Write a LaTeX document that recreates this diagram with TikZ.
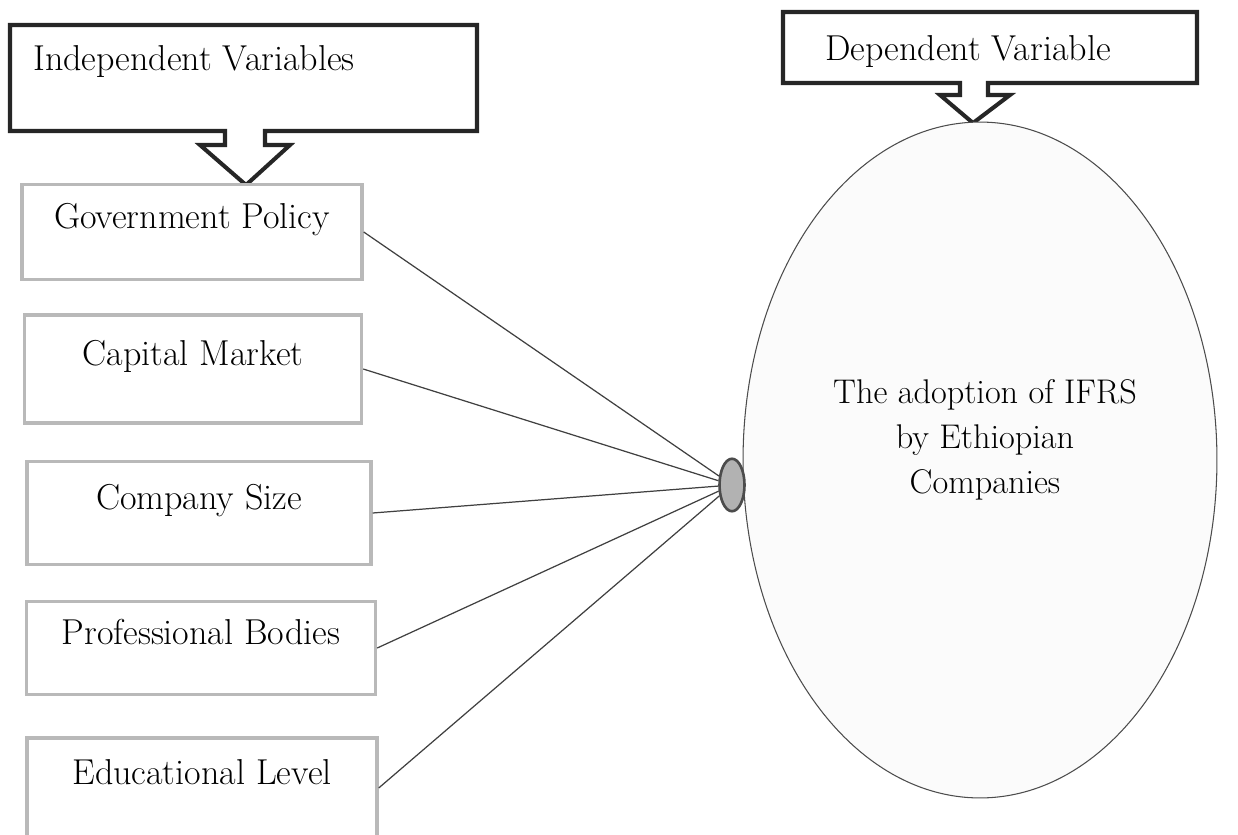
\documentclass[tikz,border=0pt]{standalone}
\usetikzlibrary{shapes.geometric}
\begin{document}
\begin{tikzpicture}[x=0.02cm, y=-0.02cm, every node/.style={font=\fontsize{20.5}{26}\selectfont}, factor/.style={rectangle, draw=gray!55, line width=2pt, fill=white, text height=0.5cm, text depth=0.66cm}, callout/.style={draw=black!85, line width=2.3pt, fill=white, line join=miter}, hub/.style={ellipse, draw=black!70, fill=gray!60, line width=1.5pt, minimum width=0.5cm, minimum height=1.05cm, inner sep=0pt}, target/.style={ellipse, draw=black!70, line width=0.6pt, fill=gray!3, minimum width=9.48cm, minimum height=13.52cm, inner sep=0pt}, link/.style={draw=black!75, line width=0.7pt}]
		\useasboundingbox (0,0) rectangle (1238,835);

		\draw[callout] (10,25) -- (477,25) -- (477,131) -- (265,131) -- (265,145) -- (290,145) -- (246,185) -- (200,145) -- (225,145) -- (225,131) -- (10,131) -- cycle;
		\node[anchor=west] (indep) at (27,62) {Independent Variables};

		\draw[callout] (783,12) -- (1197,12) -- (1197,83) -- (988,83) -- (988,95) -- (1010,95) -- (973,123) -- (940,95) -- (960,95) -- (960,83) -- (783,83) -- cycle;
		\node (dep) at (968,52) {Dependent Variable};

		\node[factor, minimum width=6.8cm, minimum height=1.9cm] (gp) at (192,232) {Government Policy};
		\node[factor, minimum width=6.74cm, minimum height=2.16cm] (cm) at (193,369) {Capital Market};
		\node[factor, minimum width=6.88cm, minimum height=2.06cm] (cs) at (199,513) {Company Size};
		\node[factor, minimum width=6.98cm, minimum height=1.86cm] (pb) at (201,648) {Professional Bodies};
		\node[factor, minimum width=7cm, minimum height=2cm] (el) at (202,788) {Educational Level};

		\node[target] (goal) at (980,460) {};
		\node[align=center, font=\fontsize{19.5}{25.5}\selectfont] (goaltext) at (985,440) {The adoption of IFRS\\by Ethiopian\\Companies};
		\node[hub] (hub) at (732,485) {};

		\foreach \f in {gp,cm,cs,pb,el}
			\draw[link] (\f.east) -- (hub);
	\end{tikzpicture}
\end{document}
